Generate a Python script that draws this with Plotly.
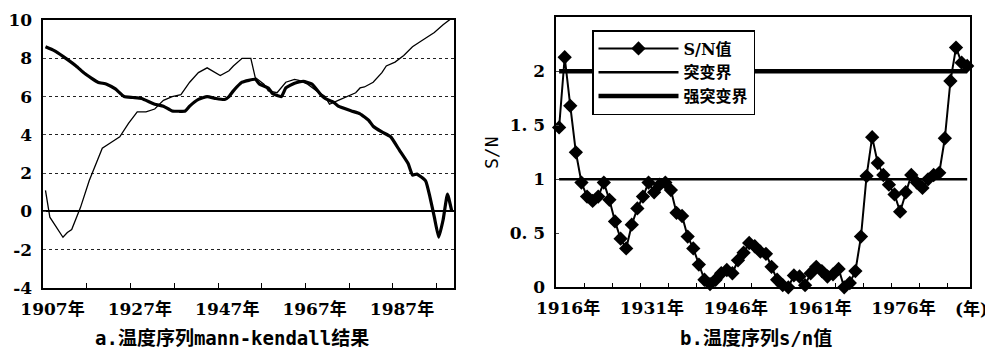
import plotly.graph_objects as go

# ---------------- data: panel a (Mann-Kendall) ----------------
uf_years = [1907, 1908, 1911, 1912, 1913, 1915, 1917, 1919, 1920, 1922, 1924, 1926, 1928, 1930,
            1932, 1934, 1936, 1938, 1940, 1942, 1944, 1947, 1949, 1950, 1952, 1954, 1955, 1957,
            1958, 1960, 1961, 1962, 1964, 1965, 1967, 1969, 1971, 1972, 1974, 1976, 1978, 1979,
            1980, 1982, 1984, 1985, 1987, 1989, 1991, 1993, 1996, 1998, 2000]
uf_values = [1.1, -0.3, -1.35, -1.1, -0.95, 0.2, 1.6, 2.7, 3.3, 3.6, 3.9, 4.6, 5.2, 5.2,
             5.35, 5.8, 6.0, 6.1, 6.75, 7.25, 7.5, 7.1, 7.35, 7.6, 8.0, 8.0, 7.0, 6.65,
             6.3, 6.2, 6.45, 6.75, 6.9, 6.85, 6.65, 6.3, 6.0, 5.6, 5.8, 6.0, 6.2, 6.45,
             6.5, 6.75, 7.25, 7.6, 7.8, 8.15, 8.6, 8.9, 9.35, 9.75, 10.1]

ub_years = [1907, 1909, 1911, 1914, 1916, 1919, 1921, 1923, 1925, 1927, 1929, 1932, 1934, 1936,
            1939, 1940, 1942, 1944, 1946, 1948, 1949, 1950, 1952, 1955, 1956, 1958, 1959, 1961,
            1962, 1964, 1966, 1968, 1970, 1971, 1973, 1974, 1977, 1979, 1981, 1982, 1984, 1986,
            1988, 1990, 1991, 1992, 1994, 1995, 1996, 1997, 1998, 1999, 2000]
ub_values = [8.6, 8.4, 8.1, 7.6, 7.2, 6.75, 6.65, 6.4, 6.0, 5.95, 5.9, 5.6, 5.5, 5.25,
             5.25, 5.5, 5.85, 6.0, 5.9, 5.85, 6.0, 6.3, 6.75, 6.9, 6.65, 6.45, 6.15, 6.0,
             6.45, 6.7, 6.8, 6.65, 6.1, 5.9, 5.7, 5.5, 5.25, 5.1, 4.75, 4.45, 4.15, 3.9,
             3.2, 2.5, 1.9, 1.95, 1.6, 0.75, -0.3, -1.35, -0.45, 0.9, 0.0]

a_tick_years = [1907, 1927, 1947, 1967, 1987]
a_tick_labels = ["1907年", "1927年", "1947年", "1967年", "1987年"]
a_yticks = [-4, -2, 0, 2, 4, 6, 8, 10]
a_ytick_labels = ["-4", "-2", "0", "2", "4", "6", "8", "10"]

# ---------------- data: panel b (S/N) ----------------
sn_years = list(range(1916, 1990))
sn_values = [1.48, 2.13, 1.68, 1.25, 0.97, 0.84, 0.80, 0.84, 0.97, 0.81,
             0.61, 0.45, 0.36, 0.58, 0.73, 0.84, 0.97, 0.88, 0.95, 0.97,
             0.90, 0.69, 0.66, 0.47, 0.36, 0.21, 0.07, 0.03, 0.07, 0.13,
             0.16, 0.13, 0.25, 0.32, 0.41, 0.38, 0.33, 0.31, 0.19, 0.07,
             0.02, 0.00, 0.11, 0.10, 0.02, 0.13, 0.19, 0.15, 0.10, 0.12,
             0.17, 0.00, 0.04, 0.15, 0.47, 1.03, 1.39, 1.15, 1.04, 0.95,
             0.86, 0.70, 0.88, 1.04, 0.97, 0.92, 1.00, 1.04, 1.06, 1.38,
             1.91, 2.22, 2.08, 2.05]
mutation_level = 1.0
strong_level = 2.0

b_tick_years = [1916, 1931, 1946, 1961, 1976]
b_tick_labels = ["1916年", "1931年", "1946年", "1961年", "1976年"]
b_yticks = [0, 0.5, 1, 1.5, 2, 2.5]
b_ytick_labels = ["0", "0. 5", "1", "1. 5", "2", "2. 5"]

names = ["S/N值", "突变界", "强突变界"]
title_a = "a.温度序列mann-kendall结果"
title_b = "b.温度序列s/n值"

# ---------------- figure ----------------
# the page body has an 8 px default margin, so the figure is drawn 8 px in
OFF = 8
W, H = 993 - OFF, 350 - OFF


def px(x):
    return (x - OFF) / W


def py(y):
    return 1 - (y - OFF) / H


TICKFONT = dict(family="DejaVu Serif, Noto Sans CJK SC", size=17, color="black", weight="bold")
LABEL_SHIFT = 1.6

fig = go.Figure()

fig.add_trace(go.Scatter(x=uf_years, y=uf_values, mode="lines",
                         line=dict(color="black", width=1.3), showlegend=False,
                         xaxis="x", yaxis="y"))
fig.add_trace(go.Scatter(x=ub_years, y=ub_values, mode="lines",
                         line=dict(color="black", width=3.2, shape="spline", smoothing=0.4),
                         showlegend=False, xaxis="x", yaxis="y"))

fig.add_trace(go.Scatter(x=sn_years, y=[mutation_level] * len(sn_years), mode="lines",
                         name=names[1], line=dict(color="black", width=2.5),
                         xaxis="x2", yaxis="y2", legendrank=2))
fig.add_trace(go.Scatter(x=sn_years, y=[strong_level] * len(sn_years), mode="lines",
                         name=names[2], line=dict(color="black", width=4.5),
                         xaxis="x2", yaxis="y2", legendrank=3))
fig.add_trace(go.Scatter(x=sn_years, y=sn_values, mode="lines+markers", name=names[0],
                         line=dict(color="black", width=2),
                         marker=dict(symbol="diamond", size=11, color="black"),
                         cliponaxis=False, xaxis="x2", yaxis="y2", legendrank=1))

axis_common = dict(showline=True, linecolor="black", linewidth=1.5, mirror=True,
                   tickfont=TICKFONT, showgrid=False, zeroline=False, automargin=False)

fig.update_layout(
    width=W, height=H, margin=dict(l=0, r=0, t=0, b=0, pad=0, autoexpand=False),
    paper_bgcolor="white", plot_bgcolor="white",
    xaxis=dict(domain=[px(43.3), px(454)], range=[1906.5, 2000.5], anchor="y",
               tickmode="array", tickvals=[v + LABEL_SHIFT for v in a_tick_years],
               ticktext=a_tick_labels, ticks="", ticklabelstandoff=5,
               minor=dict(tickmode="array", tickvals=[1916.5 + 10 * i for i in range(9)],
                          ticks="inside", ticklen=5, tickcolor="black", showgrid=False),
               **axis_common),
    yaxis=dict(domain=[py(288), py(20)], range=[-4, 10], anchor="x",
               tickmode="array", tickvals=a_yticks, ticktext=a_ytick_labels,
               ticks="inside", ticklen=3, ticklabelstandoff=6,
               showline=True, linecolor="black", linewidth=1.5, mirror=True,
               tickfont=TICKFONT, showgrid=True, gridcolor="#222", griddash="dot",
               gridwidth=1, zeroline=True, zerolinecolor="black", zerolinewidth=1.5,
               automargin=False),
    xaxis2=dict(domain=[px(556.3), px(970)], range=[1915.5, 1989.5], anchor="y2",
                tickmode="array", tickvals=[v + LABEL_SHIFT for v in b_tick_years],
                ticktext=b_tick_labels, ticks="", ticklabelstandoff=5,
                minor=dict(tickmode="array", tickvals=[1920.5 + 5 * i for i in range(14)],
                           ticks="inside", ticklen=5, tickcolor="black", showgrid=False),
                **axis_common),
    yaxis2=dict(domain=[py(287.3), py(17.3)], range=[0, 2.5], anchor="x2",
                tickmode="array", tickvals=b_yticks, ticktext=b_ytick_labels,
                ticks="inside", ticklen=3, ticklabelstandoff=6, **axis_common),
    legend=dict(x=px(592), y=py(30), xanchor="left", yanchor="top",
                bgcolor="white", bordercolor="black", borderwidth=1.5,
                font=dict(family="DejaVu Serif, Noto Sans CJK SC", size=16, color="black",
                          weight="bold"),
                itemwidth=80, traceorder="normal", tracegroupgap=0),
    annotations=[
        dict(text=title_a, x=px(232), y=py(338), xref="paper", yref="paper",
             showarrow=False, xanchor="center", yanchor="middle",
             font=dict(family="DejaVu Sans Mono, Noto Sans CJK SC", size=19, color="black",
                       weight="bold")),
        dict(text=title_b, x=px(756), y=py(338), xref="paper", yref="paper",
             showarrow=False, xanchor="center", yanchor="middle",
             font=dict(family="DejaVu Sans Mono, Noto Sans CJK SC", size=19, color="black",
                       weight="bold")),
        dict(text="S/N", x=px(491), y=py(153), xref="paper", yref="paper",
             showarrow=False, textangle=-90, xanchor="center", yanchor="middle",
             font=dict(family="DejaVu Sans Mono", size=18, color="black")),
        dict(text="(年)", x=px(990), y=py(309), xref="paper", yref="paper",
             showarrow=False, xanchor="right", yanchor="middle", font=TICKFONT),
    ],
)

fig.write_html("out.html")
